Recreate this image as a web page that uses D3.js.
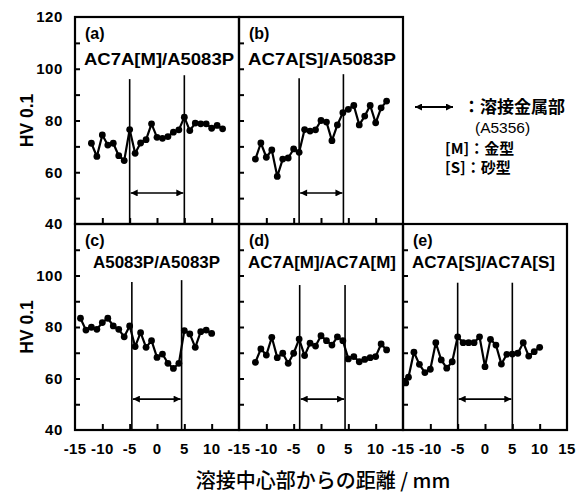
<!DOCTYPE html>
<html><head><meta charset="utf-8">
<script src="https://cdn.jsdelivr.net/npm/d3@7"></script>
<style>
html,body{margin:0;padding:0;background:#fff;}
svg{display:block;}
text{fill:#000;}
</style></head>
<body><svg id="chart" width="578" height="497"></svg>
<script>
// ---- data (distance from weld centre in mm, HV0.1) ----
const xA = [-12,-11,-10,-9,-8,-7,-6,-5,-4,-3,-2,-1,0,1,2,3,4,5,6,7,8,9,10,11,12];
const hvA = [71.2,66.1,74.4,70.5,71.2,66.4,64.5,76.5,67.3,71.3,72.6,78.7,73.5,73.1,73.8,75.5,76.4,81.3,76.1,79.0,78.7,78.7,77.0,78.1,76.8];
const xB = [-12,-11,-10,-9,-8,-7,-6,-5,-4,-3,-2,-1,0,1,2,3,4,5,6,7,8,9,10,11,12];
const hvB = [65.1,71.3,65.8,68.6,58.4,65.1,65.5,69.0,67.7,76.5,75.9,76.4,80.0,79.4,72.2,78.3,83.0,84.3,85.8,78.3,81.7,85.8,79.1,84.9,87.5];
const xC = [-14,-13,-12,-11,-10,-9,-8,-7,-6,-5,-4,-3,-2,-1,0,1,2,3,4,5,6,7,8,9,10];
const hvC = [83.4,78.8,79.9,79.1,81.7,83.4,80.4,79.1,76.2,80.4,72.4,77.8,72.1,74.7,68.2,69.5,65.9,63.9,65.9,78.6,77.3,72.1,78.2,78.8,77.5];
const xD = [-12,-11,-10,-9,-8,-7,-6,-5,-4,-3,-2,-1,0,1,2,3,4,5,6,7,8,9,10,11,12];
const hvD = [66.3,71.5,69.1,76.0,68.1,69.8,65.9,69.8,75.3,68.9,73.7,72.6,76.6,74.7,73.0,76.2,74.7,67.6,68.5,66.5,67.4,68.1,68.5,73.4,71.1];
const xE = [-14.5,-14,-13,-12,-11,-10,-9,-8,-7,-6,-5,-4,-3,-2,-1,0,1,2,3,4,5,6,7,8,9,10];
const hvE = [58.3,60.5,70.2,65.5,62.3,63.6,73.9,67.2,64.0,66.5,76.2,73.9,73.9,73.9,76.2,64.6,75.2,73.0,65.6,69.4,69.5,69.8,73.9,68.7,70.4,72.1];

// weld metal boundaries (x) and top of each boundary line (HV)
const linesA = [-5, 5],     topsA = [96, 97.5];
const linesB = [-4, 4.1],   topsB = [96.3, 97.9];
const linesC = [-4.6, 4.5], topsC = [97.5, 98.2];
const linesD = [-3.9, 4.4], topsD = [96.3, 96.3];
const linesE = [-5, 5],     topsE = [97.2, 97.2];
const arrowHV = 52;

const panelTags = ["(a)","(b)","(c)","(d)","(e)"];
const panelTitles = ["AC7A[M]/A5083P","AC7A[S]/A5083P","A5083P/A5083P","AC7A[M]/AC7A[M]","AC7A[S]/AC7A[S]"];

const xDomain = [-15, 15];
const yDomain = [40, 120];
const yTickLabelsTop = [40,60,80,100,120];
const yTickLabelsBottom = [40,60,80,100];
const yMinorTicks = [50,60,70,80,90,100,110];
const xTicks = [-10,-5,0,5,10];
const xTickLabelsC = [-15,-10,-5,0,5,10];
const xTickLabelsD = [-15,-10,-5,0,5,10];
const xTickLabelsE = [-15,-10,-5,0,5,10,15];

const yTitle = "HV 0.1";
const xTitle = "溶接中心部からの距離 / mm";
const legendLines = ["：溶接金属部","(A5356)","[M]：金型","[S]：砂型"];

// ---- layout ----
const svg = d3.select("#chart");
svg.append("rect").attr("width",578).attr("height",497).attr("fill","#fff");

const left0 = 75, pw = 164;
const rows = [{top:17,bottom:224},{top:224,bottom:430}];

const panels = [
  {x:xA, y:hvA, lines:linesA, tops:topsA, row:0, col:0},
  {x:xB, y:hvB, lines:linesB, tops:topsB, row:0, col:1},
  {x:xC, y:hvC, lines:linesC, tops:topsC, row:1, col:0, xl:xTickLabelsC},
  {x:xD, y:hvD, lines:linesD, tops:topsD, row:1, col:1, xl:xTickLabelsD},
  {x:xE, y:hvE, lines:linesE, tops:topsE, row:1, col:2, xl:xTickLabelsE}
];

const defs = svg.append("defs");
function mk(id, orient){
  defs.append("marker").attr("id",id).attr("viewBox","0 0 10 10")
    .attr("refX",10).attr("refY",5).attr("markerWidth",8).attr("markerHeight",7)
    .attr("markerUnits","userSpaceOnUse").attr("orient",orient)
    .append("path").attr("d","M0,0 L10,5 L0,10 Z").attr("fill","#000");
}
mk("ah","auto"); mk("ahs","auto-start-reverse");

const boldFont = "'Liberation Sans', Arial, Helvetica, sans-serif";
const jpFont = "'Noto Sans CJK JP', 'Noto Sans CJK SC', sans-serif";

panels.forEach((p,i)=>{
  const r = rows[p.row];
  const x0 = left0 + p.col*pw;
  const xs = d3.scaleLinear().domain(xDomain).range([x0, x0+pw]);
  const ys = d3.scaleLinear().domain(yDomain).range([r.bottom, r.top]);
  const g = svg.append("g");

  // inward y ticks
  const yAx = d3.axisRight(ys).tickValues(yMinorTicks).tickSize(5).tickFormat("");
  g.append("g").attr("transform",`translate(${x0},0)`).call(yAx)
    .call(s=>{s.select(".domain").remove(); s.selectAll("line").attr("stroke","#000").attr("stroke-width",2);});
  // inward x ticks
  const xAx = d3.axisTop(xs).tickValues(xTicks).tickSize(6).tickFormat("");
  g.append("g").attr("transform",`translate(0,${r.bottom})`).call(xAx)
    .call(s=>{s.select(".domain").remove(); s.selectAll("line").attr("stroke","#000").attr("stroke-width",2);});

  // weld boundary lines
  p.lines.forEach((lx,k)=>{
    g.append("line").attr("x1",xs(lx)).attr("x2",xs(lx))
      .attr("y1",ys(40)).attr("y2",ys(p.tops[k]))
      .attr("stroke","#000").attr("stroke-width",1.6);
  });
  // double arrow
  g.append("line").attr("x1",xs(p.lines[0])+1).attr("x2",xs(p.lines[1])-1)
    .attr("y1",ys(arrowHV)).attr("y2",ys(arrowHV))
    .attr("stroke","#000").attr("stroke-width",1.6)
    .attr("marker-end","url(#ah)").attr("marker-start","url(#ahs)");

  // data line + markers
  const data = p.x.map((d,k)=>({x:d,y:p.y[k]}));
  g.append("path").datum(data)
    .attr("d", d3.line().x(d=>xs(d.x)).y(d=>ys(d.y)))
    .attr("fill","none").attr("stroke","#000").attr("stroke-width",2.2).attr("stroke-linejoin","round");
  g.selectAll("circle").data(data).join("circle")
    .attr("cx",d=>xs(d.x)).attr("cy",d=>ys(d.y)).attr("r",3.4).attr("fill","#000");

  // frame
  g.append("rect").attr("x",x0).attr("y",r.top).attr("width",pw).attr("height",r.bottom-r.top)
    .attr("fill","none").attr("stroke","#000").attr("stroke-width",2.2);

  // titles
  g.append("text").attr("x",x0+10).attr("y",r.top+22).text(panelTags[i])
    .attr("font-family",boldFont).attr("font-weight","bold").attr("font-size",16);
  const tw = [150,148,127,148,143][i];
  g.append("text").attr("x",x0+(i===2?18:9)).attr("y",r.top+(p.row===0?48:44)).text(panelTitles[i])
    .attr("font-family",boldFont).attr("font-weight","bold").attr("font-size",16.5)
    .attr("textLength",tw).attr("lengthAdjust","spacingAndGlyphs");

  // y tick labels (left column)
  if(p.col===0){
    const labs = p.row===0 ? yTickLabelsTop : yTickLabelsBottom;
    g.selectAll("text.yl").data(labs).join("text").attr("class","yl")
      .attr("x",x0-12).attr("y",d=>ys(d)).attr("dy","0.36em").attr("text-anchor","end")
      .attr("font-family",boldFont).attr("font-weight","bold").attr("font-size",15)
      .attr("letter-spacing",0.6).text(d=>d);
    g.append("text").attr("transform",`translate(33,${(r.top+r.bottom)/2}) rotate(-90)`)
      .attr("text-anchor","middle").attr("font-family",boldFont).attr("font-weight","bold")
      .attr("font-size",17.5).text(yTitle);
  }
  // x tick labels (bottom row)
  if(p.xl){
    g.selectAll("text.xl").data(p.xl).join("text").attr("class","xl")
      .attr("x",d=>xs(d)).attr("y",454).attr("text-anchor","middle")
      .attr("font-family",boldFont).attr("font-weight","bold").attr("font-size",15)
      .attr("letter-spacing",0.3).text(d=>d);
  }
});

// x-axis title
svg.append("text").attr("x",323).attr("y",488).attr("text-anchor","middle")
  .attr("font-family",jpFont).attr("font-size",20).attr("font-weight",500).text(xTitle);

// legend
svg.append("line").attr("x1",415).attr("x2",453).attr("y1",107).attr("y2",107)
  .attr("stroke","#000").attr("stroke-width",1.8)
  .attr("marker-end","url(#ah)").attr("marker-start","url(#ahs)");
svg.append("text").attr("x",463).attr("y",113).text(legendLines[0])
  .attr("font-family",jpFont).attr("font-weight","bold").attr("font-size",17);
svg.append("text").attr("x",475).attr("y",133).text(legendLines[1])
  .attr("font-family",boldFont).attr("font-size",15.5);
svg.append("text").attr("x",445).attr("y",154).text(legendLines[2])
  .attr("font-family",jpFont).attr("font-weight","bold").attr("font-size",15);
svg.append("text").attr("x",445).attr("y",173).text(legendLines[3])
  .attr("font-family",jpFont).attr("font-weight","bold").attr("font-size",15);
</script></body></html>
